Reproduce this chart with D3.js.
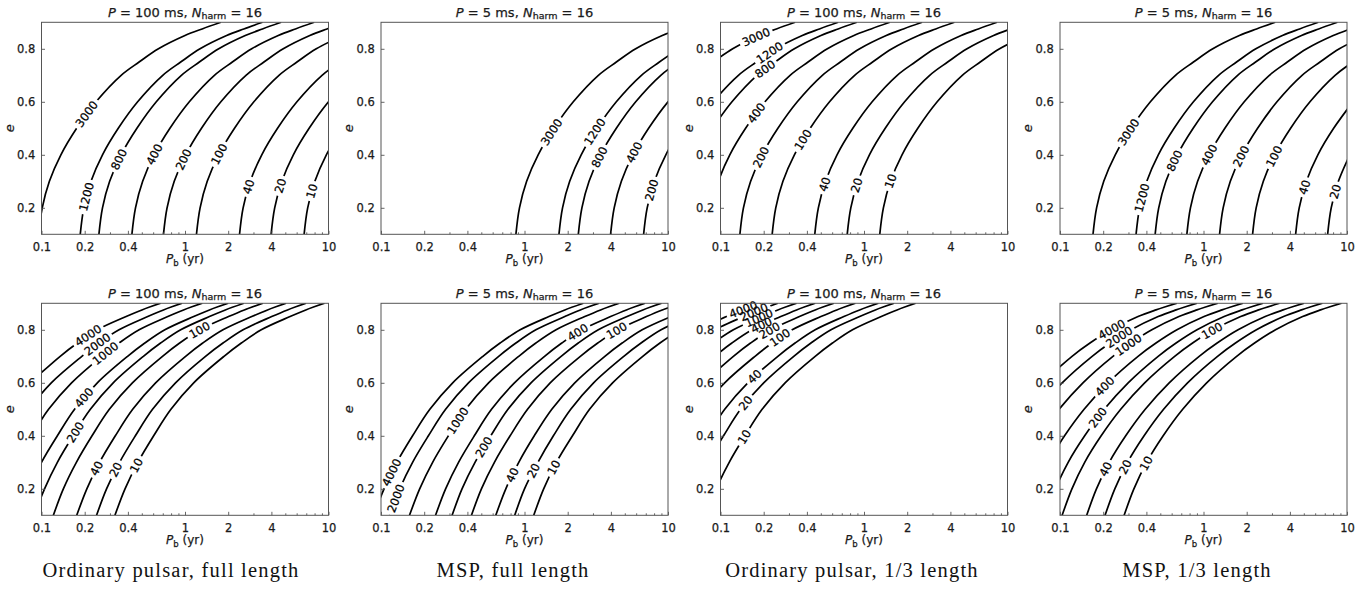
<!DOCTYPE html>
<html>
<head>
<meta charset="utf-8">
<script src="https://cdn.jsdelivr.net/npm/d3@7"></script>
<style>
  body { margin: 0; background: #fff; }
  text { font-family: "DejaVu Sans", sans-serif; }
</style>
</head>
<body>
<svg id="fig" width="1365" height="589"></svg>
<script>
// ---- axis / text data ----
var xTickVals = [0.1, 0.2, 0.4, 1, 2, 4, 10];
var xTickText = ["0.1", "0.2", "0.4", "1", "2", "4", "10"];
var xMinorVals = [0.3, 0.5, 0.6, 0.7, 0.8, 0.9, 3, 5, 6, 7, 8, 9];
var yTickVals = [0.2, 0.4, 0.6, 0.8];
var periods = [100, 5, 100, 5, 100, 5, 100, 5];
var captions = ["Ordinary pulsar, full length", "MSP, full length", "Ordinary pulsar, 1/3 length", "MSP, 1/3 length"];

// ---- contour lines, [Pb (yr), e] ----
var levels1 = [3000, 1200, 800, 400, 200, 100, 40, 20, 10];
var curves1 = [
  [[0.0955,0.1],[0.1012,0.2],[0.1135,0.3],[0.1365,0.4],[0.1758,0.5],[0.2399,0.6],[0.3589,0.7],[0.4787,0.75],[0.6531,0.8],[1.000,0.85],[1.317,0.875],[1.778,0.9]],
  [[0.1862,0.1],[0.1972,0.2],[0.2213,0.3],[0.2661,0.4],[0.3428,0.5],[0.4677,0.6],[0.6996,0.7],[0.9333,0.75],[1.273,0.8],[1.950,0.85],[2.569,0.875],[3.467,0.9]],
  [[0.2512,0.1],[0.2661,0.2],[0.2985,0.3],[0.3589,0.4],[0.4624,0.5],[0.6310,0.6],[0.9438,0.7],[1.259,0.75],[1.718,0.8],[2.630,0.85],[3.466,0.875],[4.677,0.9]],
  [[0.4266,0.1],[0.4519,0.2],[0.5070,0.3],[0.6095,0.4],[0.7852,0.5],[1.072,0.6],[1.603,0.7],[2.138,0.75],[2.917,0.8],[4.467,0.85],[5.886,0.875],[7.943,0.9]],
  [[0.7079,0.1],[0.7499,0.2],[0.8414,0.3],[1.012,0.4],[1.303,0.5],[1.778,0.6],[2.660,0.7],[3.548,0.75],[4.841,0.8],[7.413,0.85],[9.769,0.875],[13.18,0.9]],
  [[1.202,0.1],[1.274,0.2],[1.429,0.3],[1.718,0.4],[2.213,0.5],[3.020,0.6],[4.518,0.7],[6.026,0.75],[8.222,0.8],[12.59,0.85]],
  [[2.399,0.1],[2.541,0.2],[2.851,0.3],[3.428,0.4],[4.416,0.5],[6.026,0.6],[9.013,0.7],[12.02,0.75]],
  [[3.981,0.1],[4.217,0.2],[4.732,0.3],[5.689,0.4],[7.328,0.5],[10.0,0.6],[14.9,0.7]],
  [[6.761,0.1],[7.161,0.2],[8.035,0.3],[9.661,0.4],[12.45,0.5]]
];
var labelAt1 = [[0.204,0.557],[0.201,0.242],[0.352,0.38],[0.617,0.40],[1.0,0.38],[1.70,0.405],[2.98,0.274],[4.81,0.28],[8.0,0.26]];

var levels2 = [3000, 1200, 800, 400, 200];
var curves2 = [
  [[0.871,0.1],[0.9226,0.2],[1.035,0.3],[1.245,0.4],[1.603,0.5],[2.188,0.6],[3.273,0.7],[4.365,0.75],[5.957,0.8],[9.120,0.85],[12.01,0.875]],
  [[1.738,0.1],[1.841,0.2],[2.065,0.3],[2.483,0.4],[3.199,0.5],[4.365,0.6],[6.530,0.7],[8.710,0.75],[11.88,0.8]],
  [[2.371,0.1],[2.512,0.2],[2.818,0.3],[3.388,0.4],[4.365,0.5],[5.957,0.6],[8.910,0.7],[11.88,0.75]],
  [[3.981,0.1],[4.217,0.2],[4.732,0.3],[5.689,0.4],[7.328,0.5],[10.0,0.6],[14.9,0.7]],
  [[6.761,0.1],[7.161,0.2],[8.035,0.3],[9.661,0.4],[12.45,0.5]]
];
var labelAt2 = [[1.58,0.481],[3.08,0.487],[3.43,0.387],[5.70,0.412],[7.66,0.267]];

var levels3 = [3000, 1200, 800, 400, 200, 100, 40, 20, 10];
var curves3 = [
  [[0.04467,0.6],[0.06681,0.7],[0.08913,0.75],[0.1216,0.8],[0.1863,0.85],[0.2454,0.875],[0.3311,0.9]],
  [[0.06531,0.5],[0.08913,0.6],[0.1333,0.7],[0.1779,0.75],[0.2427,0.8],[0.3715,0.85],[0.4896,0.875],[0.6607,0.9]],
  [[0.08810,0.5],[0.1202,0.6],[0.1798,0.7],[0.2399,0.75],[0.3273,0.8],[0.5012,0.85],[0.6604,0.875],[0.8913,0.9]],
  [[0.08610,0.2],[0.09661,0.3],[0.1161,0.4],[0.1496,0.5],[0.2042,0.6],[0.3054,0.7],[0.4074,0.75],[0.5560,0.8],[0.8511,0.85],[1.121,0.875],[1.514,0.9]],
  [[0.1365,0.1],[0.1445,0.2],[0.1622,0.3],[0.1950,0.4],[0.2512,0.5],[0.3428,0.6],[0.5127,0.7],[0.6840,0.75],[0.9333,0.8],[1.429,0.85],[1.883,0.875],[2.541,0.9]],
  [[0.2291,0.1],[0.2427,0.2],[0.2723,0.3],[0.3273,0.4],[0.4217,0.5],[0.5754,0.6],[0.8608,0.7],[1.148,0.75],[1.566,0.8],[2.399,0.85],[3.161,0.875],[4.266,0.9]],
  [[0.4539,0.1],[0.4808,0.2],[0.5395,0.3],[0.6486,0.4],[0.8356,0.5],[1.140,0.6],[1.705,0.7],[2.275,0.75],[3.105,0.8],[4.753,0.85],[6.264,0.875],[8.453,0.9]],
  [[0.7638,0.1],[0.8091,0.2],[0.9078,0.3],[1.091,0.4],[1.406,0.5],[1.919,0.6],[2.870,0.7],[3.829,0.75],[5.224,0.8],[7.999,0.85],[10.54,0.875],[14.2,0.9]],
  [[1.288,0.1],[1.365,0.2],[1.531,0.3],[1.841,0.4],[2.371,0.5],[3.236,0.6],[4.841,0.7],[6.457,0.75],[8.810,0.8],[13.49,0.85]]
];
var labelAt3 = [[0.178,0.84],[0.221,0.783],[0.198,0.733],[0.180,0.557],[0.188,0.393],[0.330,0.475],[0.548,0.286],[0.887,0.286],[1.56,0.299]];

var levels4 = [3000, 1200, 800, 400, 200, 100, 40, 20];
var curves4 = [
  [[0.1698,0.1],[0.1799,0.2],[0.2018,0.3],[0.2427,0.4],[0.3126,0.5],[0.4266,0.6],[0.6380,0.7],[0.8512,0.75],[1.161,0.8],[1.778,0.85],[2.343,0.875],[3.162,0.9]],
  [[0.3388,0.1],[0.3589,0.2],[0.4027,0.3],[0.4842,0.4],[0.6237,0.5],[0.8511,0.6],[1.274,0.7],[1.699,0.75],[2.317,0.8],[3.548,0.85],[4.676,0.875],[6.310,0.9]],
  [[0.4603,0.1],[0.4875,0.2],[0.5470,0.3],[0.6577,0.4],[0.8472,0.5],[1.156,0.6],[1.729,0.7],[2.307,0.75],[3.147,0.8],[4.819,0.85],[6.350,0.875],[8.570,0.9]],
  [[0.7656,0.1],[0.8110,0.2],[0.9099,0.3],[1.094,0.4],[1.409,0.5],[1.923,0.6],[2.877,0.7],[3.837,0.75],[5.236,0.8],[8.017,0.85],[10.56,0.875],[14.2,0.9]],
  [[1.294,0.1],[1.371,0.2],[1.538,0.3],[1.849,0.4],[2.382,0.5],[3.251,0.6],[4.862,0.7],[6.487,0.75],[8.851,0.8],[13.55,0.85]],
  [[2.198,0.1],[2.328,0.2],[2.612,0.3],[3.141,0.4],[4.046,0.5],[5.521,0.6],[8.258,0.7],[11.01,0.75]],
  [[4.385,0.1],[4.645,0.2],[5.212,0.3],[6.266,0.4],[8.072,0.5],[11.02,0.6]],
  [[7.328,0.1],[7.762,0.2],[8.710,0.3],[10.47,0.4]]
];
var labelAt4 = [[0.308,0.481],[0.381,0.236],[0.652,0.374],[1.08,0.40],[1.85,0.393],[3.16,0.393],[5.26,0.274],[8.29,0.261]];

var levels5 = [4000, 2000, 1000, 400, 200, 100, 40, 20, 10];
var curves5 = [
  [[0.0832,0.6],[0.135,0.7],[0.178,0.75],[0.245,0.8],[0.389,0.85],[0.501,0.875],[0.676,0.9]],
  [[0.0813,0.5],[0.117,0.6],[0.191,0.7],[0.251,0.75],[0.347,0.8],[0.550,0.85],[0.708,0.875],[0.955,0.9]],
  [[0.0851,0.4],[0.112,0.5],[0.162,0.6],[0.263,0.7],[0.347,0.75],[0.479,0.8],[0.759,0.85],[0.977,0.875],[1.32,0.9]],
  [[0.0813,0.2],[0.100,0.3],[0.129,0.4],[0.170,0.5],[0.245,0.6],[0.398,0.7],[0.525,0.75],[0.724,0.8],[1.15,0.85],[1.48,0.875],[2.00,0.9]],
  [[0.0891,0.1],[0.105,0.2],[0.129,0.3],[0.166,0.4],[0.219,0.5],[0.316,0.6],[0.513,0.7],[0.676,0.75],[0.933,0.8],[1.48,0.85],[1.91,0.875],[2.57,0.9]],
  [[0.121,0.1],[0.142,0.2],[0.175,0.3],[0.225,0.4],[0.297,0.5],[0.430,0.6],[0.697,0.7],[0.918,0.75],[1.27,0.8],[2.01,0.85],[2.59,0.875],[3.49,0.9]],
  [[0.176,0.1],[0.207,0.2],[0.254,0.3],[0.327,0.4],[0.432,0.5],[0.624,0.6],[1.01,0.7],[1.33,0.75],[1.84,0.8],[2.92,0.85],[3.76,0.875],[5.07,0.9]],
  [[0.242,0.1],[0.284,0.2],[0.350,0.3],[0.451,0.4],[0.594,0.5],[0.859,0.6],[1.39,0.7],[1.84,0.75],[2.54,0.8],[4.02,0.85],[5.18,0.875],[6.98,0.9]],
  [[0.325,0.1],[0.382,0.2],[0.470,0.3],[0.605,0.4],[0.798,0.5],[1.15,0.6],[1.87,0.7],[2.47,0.75],[3.40,0.8],[5.40,0.85],[6.95,0.875],[9.38,0.9]]
];
var labelAt5 = [[0.215,0.771],[0.245,0.745],[0.277,0.714],[0.196,0.547],[0.171,0.415],[1.26,0.80],[0.255,0.27],[0.334,0.27],[0.459,0.289]];

var levels6 = [4000, 2000, 1000, 400, 200, 100, 40, 20, 10];
var curves6 = [
  [[0.0891,0.1],[0.105,0.2],[0.129,0.3],[0.166,0.4],[0.219,0.5],[0.316,0.6],[0.513,0.7],[0.676,0.75],[0.933,0.8],[1.48,0.85],[1.91,0.875],[2.57,0.9]],
  [[0.115,0.1],[0.135,0.2],[0.166,0.3],[0.214,0.4],[0.282,0.5],[0.407,0.6],[0.661,0.7],[0.871,0.75],[1.20,0.8],[1.91,0.85],[2.45,0.875],[3.31,0.9]],
  [[0.158,0.1],[0.186,0.2],[0.229,0.3],[0.295,0.4],[0.389,0.5],[0.562,0.6],[0.912,0.7],[1.20,0.75],[1.66,0.8],[2.63,0.85],[3.39,0.875],[4.57,0.9]],
  [[0.240,0.1],[0.282,0.2],[0.347,0.3],[0.447,0.4],[0.589,0.5],[0.851,0.6],[1.38,0.7],[1.82,0.75],[2.51,0.8],[3.98,0.85],[5.13,0.875],[6.92,0.9]],
  [[0.313,0.1],[0.367,0.2],[0.452,0.3],[0.582,0.4],[0.767,0.5],[1.11,0.6],[1.80,0.7],[2.37,0.75],[3.27,0.8],[5.19,0.85],[6.68,0.875],[9.02,0.9]],
  [[0.427,0.1],[0.501,0.2],[0.617,0.3],[0.794,0.4],[1.05,0.5],[1.51,0.6],[2.45,0.7],[3.24,0.75],[4.47,0.8],[7.08,0.85],[9.12,0.875],[12.3,0.9]],
  [[0.631,0.1],[0.741,0.2],[0.912,0.3],[1.17,0.4],[1.55,0.5],[2.24,0.6],[3.63,0.7],[4.79,0.75],[6.61,0.8],[10.5,0.85]],
  [[0.855,0.1],[1.00,0.2],[1.24,0.3],[1.59,0.4],[2.10,0.5],[3.03,0.6],[4.92,0.7],[6.49,0.75],[8.95,0.8],[14.2,0.85]],
  [[1.16,0.1],[1.36,0.2],[1.67,0.3],[2.16,0.4],[2.84,0.5],[4.11,0.6],[6.67,0.7],[8.79,0.75],[12.1,0.8]]
];
var labelAt6 = [[0.131,0.251],[0.128,0.163],[0.353,0.453],[2.30,0.799],[0.542,0.352],[4.36,0.799],[0.877,0.245],[1.146,0.27],[1.58,0.283]];

var levels7 = [4000, 2000, 1000, 400, 200, 100, 40, 20, 10];
var curves7 = [
  [[0.0501,0.75],[0.0692,0.8],[0.110,0.85],[0.141,0.875],[0.191,0.9]],
  [[0.0661,0.75],[0.0912,0.8],[0.145,0.85],[0.186,0.875],[0.251,0.9]],
  [[0.0676,0.7],[0.0891,0.75],[0.123,0.8],[0.195,0.85],[0.251,0.875],[0.339,0.9]],
  [[0.0562,0.6],[0.0912,0.7],[0.120,0.75],[0.166,0.8],[0.263,0.85],[0.339,0.875],[0.457,0.9]],
  [[0.0759,0.6],[0.123,0.7],[0.162,0.75],[0.224,0.8],[0.355,0.85],[0.457,0.875],[0.617,0.9]],
  [[0.0741,0.5],[0.107,0.6],[0.174,0.7],[0.229,0.75],[0.316,0.8],[0.501,0.85],[0.646,0.875],[0.871,0.9]],
  [[0.0813,0.4],[0.107,0.5],[0.155,0.6],[0.251,0.7],[0.331,0.75],[0.457,0.8],[0.724,0.85],[0.933,0.875],[1.26,0.9]],
  [[0.0813,0.3],[0.105,0.4],[0.138,0.5],[0.200,0.6],[0.324,0.7],[0.427,0.75],[0.589,0.8],[0.933,0.85],[1.20,0.875],[1.62,0.9]],
  [[0.0794,0.1],[0.0933,0.2],[0.115,0.3],[0.148,0.4],[0.195,0.5],[0.282,0.6],[0.457,0.7],[0.603,0.75],[0.832,0.8],[1.32,0.85],[1.70,0.875],[2.29,0.9]]
];
var labelAt7 = [[0.144,0.875],[0.173,0.862],[0.188,0.837],[0.198,0.805],[0.226,0.787],[0.252,0.78],[0.173,0.623],[0.156,0.516],[0.14,0.402]];

var levels8 = [4000, 2000, 1000, 400, 200, 100, 40, 20, 10];
var curves8 = [
  [[0.0750,0.6],[0.1213,0.7],[0.1618,0.75],[0.2265,0.8],[0.3499,0.85],[0.4667,0.875],[0.6531,0.9]],
  [[0.0705,0.5],[0.1035,0.6],[0.1675,0.7],[0.2234,0.75],[0.3126,0.8],[0.4831,0.85],[0.6442,0.875],[0.9016,0.9]],
  [[0.0719,0.4],[0.0984,0.5],[0.1445,0.6],[0.2339,0.7],[0.3119,0.75],[0.4365,0.8],[0.6745,0.85],[0.8995,0.875],[1.259,0.9]],
  [[0.0826,0.3],[0.1076,0.4],[0.1472,0.5],[0.2163,0.6],[0.3499,0.7],[0.4667,0.75],[0.6531,0.8],[1.009,0.85],[1.346,0.875],[1.884,0.9]],
  [[0.0794,0.1],[0.0929,0.2],[0.1140,0.3],[0.1486,0.4],[0.2032,0.5],[0.2985,0.6],[0.4831,0.7],[0.6442,0.75],[0.9016,0.8],[1.393,0.85],[1.858,0.875],[2.600,0.9]],
  [[0.1035,0.1],[0.1211,0.2],[0.1486,0.3],[0.1936,0.4],[0.2649,0.5],[0.3890,0.6],[0.6295,0.7],[0.8395,0.75],[1.175,0.8],[1.816,0.85],[2.421,0.875],[3.388,0.9]],
  [[0.1535,0.1],[0.1795,0.2],[0.2203,0.3],[0.2871,0.4],[0.3926,0.5],[0.5768,0.6],[0.9333,0.7],[1.245,0.75],[1.742,0.8],[2.692,0.85],[3.589,0.875],[5.023,0.9]],
  [[0.2061,0.1],[0.2410,0.2],[0.2958,0.3],[0.3855,0.4],[0.5272,0.5],[0.7745,0.6],[1.253,0.7],[1.671,0.75],[2.339,0.8],[3.614,0.85],[4.819,0.875],[6.745,0.9]],
  [[0.2799,0.1],[0.3273,0.2],[0.4018,0.3],[0.5236,0.4],[0.7161,0.5],[1.052,0.6],[1.702,0.7],[2.270,0.75],[3.177,0.8],[4.909,0.85],[6.546,0.875],[9.162,0.9]]
];
var labelAt8 = [[0.223,0.812],[0.248,0.787],[0.284,0.761],[0.206,0.585],[0.18,0.472],[1.11,0.812],[0.217,0.27],[0.284,0.283],[0.403,0.295]];

var panels = [
  {levels: levels1, curves: curves1, labels: labelAt1},
  {levels: levels2, curves: curves2, labels: labelAt2},
  {levels: levels3, curves: curves3, labels: labelAt3},
  {levels: levels4, curves: curves4, labels: labelAt4},
  {levels: levels5, curves: curves5, labels: labelAt5},
  {levels: levels6, curves: curves6, labels: labelAt6},
  {levels: levels7, curves: curves7, labels: labelAt7},
  {levels: levels8, curves: curves8, labels: labelAt8}
];

// ---- layout ----
var W = 287, H = 212;
var colX = [41.5, 381, 720.5, 1060];
var rowY = [22.3, 303.3];
var captionX = [171, 513, 852, 1197];
var frameColor = "#555";
var textColor = "#1a1a1a";

var svg = d3.select("#fig");
svg.append("rect").attr("width", 1365).attr("height", 589).attr("fill", "#fff");

var x = d3.scaleLog().domain([0.1, 10]).range([0, W]);
var y = d3.scaleLinear().domain([0.1, 0.9]).range([H, 0]);
var line = d3.line()
  .x(function(d) { return x(d[0]); })
  .y(function(d) { return y(d[1]); })
  .curve(d3.curveCatmullRom.alpha(0.5));

function heavy(sel, c) {
  // a hair of stroke so the glyphs look as dense as in the original
  return sel.style("stroke", c).style("stroke-width", "0.25px");
}

panels.forEach(function(p, i) {
  var col = i % 4, row = Math.floor(i / 4);
  var g = svg.append("g").attr("transform", "translate(" + colX[col] + "," + rowY[row] + ")");

  g.append("clipPath").attr("id", "clip" + i)
    .append("rect").attr("width", W).attr("height", H);
  var plot = g.append("g").attr("clip-path", "url(#clip" + i + ")");
  var labG = g.append("g");

  p.curves.forEach(function(c, j) {
    var path = plot.append("path")
      .attr("d", line(c))
      .attr("fill", "none")
      .attr("stroke", "#000")
      .attr("stroke-width", 1.7);

    // put the label on the nearest point of the line
    var node = path.node();
    var len = node.getTotalLength();
    var ax = x(p.labels[j][0]), ay = y(p.labels[j][1]);
    var best = 0, bd = Infinity;
    for (var s = 0; s <= len; s += 0.5) {
      var q = node.getPointAtLength(s);
      var dd = (q.x - ax) * (q.x - ax) + (q.y - ay) * (q.y - ay);
      if (dd < bd) { bd = dd; best = s; }
    }
    var pt = node.getPointAtLength(best);
    var a = node.getPointAtLength(Math.max(0, best - 5));
    var b = node.getPointAtLength(Math.min(len, best + 5));
    var ang = Math.atan2(b.y - a.y, b.x - a.x) * 180 / Math.PI;
    if (ang > 90) ang -= 180;
    if (ang < -90) ang += 180;
    var tf = "translate(" + pt.x + "," + pt.y + ") rotate(" + ang + ")";

    var txt = labG.append("text")
      .attr("transform", tf)
      .attr("text-anchor", "middle")
      .attr("dy", "0.36em")
      .attr("fill", "#000")
      .style("font-size", "11.5px")
      .text(p.levels[j]);
    heavy(txt, "#000");
    var tw = txt.node().getComputedTextLength();

    // gap in the line under the label
    var mid = "m" + i + "_" + j;
    var mask = g.append("mask").attr("id", mid).attr("maskUnits", "userSpaceOnUse")
      .attr("x", -10).attr("y", -10).attr("width", W + 20).attr("height", H + 20);
    mask.append("rect").attr("x", -10).attr("y", -10).attr("width", W + 20).attr("height", H + 20).attr("fill", "#fff");
    mask.append("rect").attr("x", -tw / 2 - 3).attr("y", -6).attr("width", tw + 6).attr("height", 12)
      .attr("transform", tf).attr("fill", "#000");
    path.attr("mask", "url(#" + mid + ")");
  });

  // axes
  var xa = g.append("g").attr("transform", "translate(0," + H + ")")
    .call(d3.axisBottom(x).tickValues(xTickVals).tickFormat(function(d, k) { return xTickText[k]; })
      .tickSizeInner(-3.5).tickSizeOuter(0).tickPadding(8.3));
  var xm = g.append("g").attr("transform", "translate(0," + H + ")")
    .call(d3.axisBottom(x).tickValues(xMinorVals).tickFormat("").tickSizeInner(-2).tickSizeOuter(0));
  var ya = g.append("g")
    .call(d3.axisLeft(y).tickValues(yTickVals).tickFormat(d3.format(".1f"))
      .tickSizeInner(-3.5).tickSizeOuter(0).tickPadding(6.3));
  [xa, xm, ya].forEach(function(ax) {
    ax.select(".domain").remove();
    ax.selectAll(".tick line").attr("stroke", frameColor).attr("stroke-width", 0.9);
    heavy(ax.selectAll(".tick text").attr("fill", textColor)
      .style("font-family", "DejaVu Sans").style("font-size", "11.5px"), textColor);
  });

  g.append("rect").attr("width", W).attr("height", H)
    .attr("fill", "none").attr("stroke", frameColor).attr("stroke-width", 1);

  // title
  var t = g.append("text").attr("x", W / 2).attr("y", -5.6)
    .attr("text-anchor", "middle").attr("fill", textColor).style("font-size", "13px");
  heavy(t, textColor);
  t.append("tspan").style("font-style", "italic").text("P");
  t.append("tspan").text(" = " + periods[i] + " ms, ");
  t.append("tspan").style("font-style", "italic").text("N");
  t.append("tspan").attr("dy", 2.6).style("font-size", "9.5px").text("harm");
  t.append("tspan").attr("dy", -2.6).text(" = 16");

  // axis labels
  var xl = g.append("text").attr("x", W / 2).attr("y", H + 29)
    .attr("text-anchor", "middle").attr("fill", textColor).style("font-size", "12px");
  heavy(xl, textColor);
  xl.append("tspan").style("font-style", "italic").text("P");
  xl.append("tspan").attr("dy", 2.4).style("font-size", "8.5px").text("b");
  xl.append("tspan").attr("dy", -2.4).text(" (yr)");

  heavy(g.append("text")
    .attr("transform", "translate(-28," + (H / 2) + ") rotate(-90)")
    .attr("text-anchor", "middle").attr("fill", textColor)
    .style("font-size", "13px").style("font-style", "italic").text("e"), textColor);

  if (row === 1) {
    svg.append("text").attr("x", captionX[col]).attr("y", 577)
      .attr("text-anchor", "middle").attr("fill", "#111")
      .style("font-family", "'Liberation Serif', serif").style("font-size", "20.5px")
      .style("letter-spacing", "1.2px")
      .text(captions[col]);
  }
});
</script>
</body>
</html>
